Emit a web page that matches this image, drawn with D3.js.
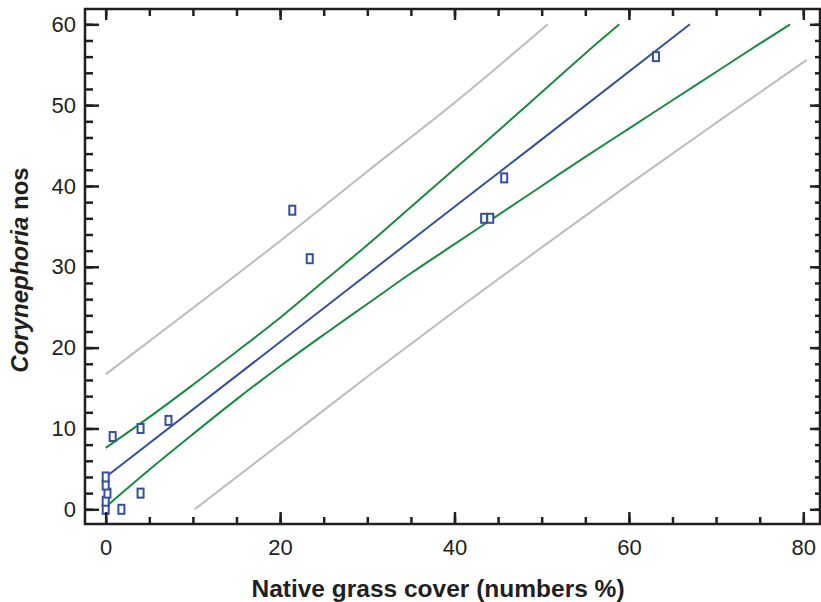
<!DOCTYPE html>
<html>
<head>
<meta charset="utf-8">
<script src="https://cdn.jsdelivr.net/npm/d3@7/dist/d3.min.js"></script>
<style>
  html, body { margin: 0; padding: 0; background: #fff; }
  svg { display: block; font-family: "Liberation Sans", Arial, Helvetica, sans-serif; }
</style>
</head>
<body>
<div id="chart"></div>
<script>
// observed points: native grass cover (%) vs Corynephoria counts
const grassCover = [0, 0, 0.2, 0, 0, 0.8, 4, 7.2, 4, 1.8, 21.4, 23.4, 43.4, 44.1, 45.7, 63.1];
const coryNos    = [0, 1, 2, 3, 4, 9, 10, 11, 2, 0, 37, 31, 36, 36, 41, 56];

// fitted line, confidence band and prediction band
const fitLine = [[0, 4.0], [20, 20.7], [38.3, 36.0], [48.5, 44.5], [67, 60]];
const confUpper = [[0, 7.6], [5, 11.4], [10, 15.4], [15, 19.5], [20, 23.7], [25, 28.2], [30, 32.7],
                   [35, 37.4], [40, 42.1], [45, 46.8], [50, 51.6], [55, 56.4], [58.9, 60]];
const confLower = [[0, 0.3], [5, 4.9], [10, 9.3], [15, 13.6], [20, 17.7], [25, 21.6], [30, 25.4],
                   [35, 29.2], [40, 32.8], [45, 36.4], [50, 40.0], [55, 43.6], [60, 47.1],
                   [65, 50.6], [70, 54.1], [75, 57.6], [78.5, 60]];
const predUpper = [[0, 16.7], [10, 24.9], [20, 33.2], [30, 41.8], [40, 50.3], [50.7, 60]];
const predLower = [[10.2, 0], [20, 8.1], [30, 16.4], [40, 24.5], [50, 32.4], [60, 40.2],
                   [70, 47.8], [80.4, 55.6]];

const xMajor = [0, 20, 40, 60, 80];
const xMinor = d3.range(0, 81, 5);
const yMajor = [0, 10, 20, 30, 40, 50, 60];
const yMinor = d3.range(0, 61, 2);

const width = 821, height = 602;
const frame = {left: 85, right: 820, top: 9, bottom: 524};
const axisColor = '#231f20';

const svg = d3.select('#chart')
    .append('svg')
    .attr('width', width)
    .attr('height', height);

const x = d3.scaleLinear().domain([0, 80]).range([105.7, 803.3]);
const y = d3.scaleLinear().domain([0, 60]).range([509.3, 24.3]);

// bands and fit line
const line = d3.line()
    .curve(d3.curveMonotoneX)
    .x(d => x(d[0]))
    .y(d => y(d[1]));

const curves = [
    {data: predUpper, color: '#bcbcbc'},
    {data: predLower, color: '#bcbcbc'},
    {data: confUpper, color: '#1a8a42'},
    {data: confLower, color: '#1a8a42'},
    {data: fitLine, color: '#34509f'}
];
svg.selectAll('path.curve')
    .data(curves)
    .enter()
    .append('path')
    .attr('class', 'curve')
    .attr('fill', 'none')
    .attr('stroke', d => d.color)
    .attr('stroke-width', 2)
    .attr('d', d => line(d.data));

// data points
svg.selectAll('rect.pt')
    .data(grassCover.map((g, i) => ({g, c: coryNos[i]})))
    .enter()
    .append('rect')
    .attr('class', 'pt')
    .attr('x', d => x(d.g) - 3)
    .attr('y', d => y(d.c) - 4.5)
    .attr('width', 6)
    .attr('height', 9)
    .attr('fill', '#fff')
    .attr('stroke', '#34509f')
    .attr('stroke-width', 2);

// axes (ticks point inward)
function styleAxis(g) {
    g.select('.domain').remove();
    g.selectAll('line').attr('stroke', axisColor).attr('stroke-width', 2.5);
    g.selectAll('text')
        .attr('fill', axisColor)
        .style('font-size', '22px')
        .style('font-family', '"Liberation Sans", Arial, sans-serif');
}

svg.append('g')
    .attr('transform', `translate(${frame.left},0)`)
    .call(d3.axisLeft(y).tickValues(yMinor).tickSize(-8).tickFormat(''))
    .call(styleAxis);
svg.append('g')
    .attr('transform', `translate(${frame.left},0)`)
    .call(d3.axisLeft(y).tickValues(yMajor).tickSize(-14).tickPadding(9).tickFormat(d3.format('d')))
    .call(styleAxis);

svg.append('g')
    .attr('transform', `translate(${frame.right},0)`)
    .call(d3.axisRight(y).tickValues(yMinor).tickSize(-5).tickFormat(''))
    .call(styleAxis);
svg.append('g')
    .attr('transform', `translate(${frame.right},0)`)
    .call(d3.axisRight(y).tickValues(yMajor).tickSize(-10).tickFormat(''))
    .call(styleAxis);

svg.append('g')
    .attr('transform', `translate(0,${frame.bottom})`)
    .call(d3.axisBottom(x).tickValues(xMinor).tickSize(-7).tickFormat(''))
    .call(styleAxis);
svg.append('g')
    .attr('transform', `translate(0,${frame.bottom})`)
    .call(d3.axisBottom(x).tickValues(xMajor).tickSize(-12).tickPadding(15).tickFormat(d3.format('d')))
    .call(styleAxis);

svg.append('g')
    .attr('transform', `translate(0,${frame.top})`)
    .call(d3.axisTop(x).tickValues(xMinor).tickSize(-7).tickFormat(''))
    .call(styleAxis);
svg.append('g')
    .attr('transform', `translate(0,${frame.top})`)
    .call(d3.axisTop(x).tickValues(xMajor).tickSize(-11).tickFormat(''))
    .call(styleAxis);

// frame
svg.append('rect')
    .attr('x', frame.left)
    .attr('y', frame.top)
    .attr('width', frame.right - frame.left)
    .attr('height', frame.bottom - frame.top)
    .attr('fill', 'none')
    .attr('stroke', axisColor)
    .attr('stroke-width', 2.5);

// axis titles
svg.append('text')
    .attr('x', 438)
    .attr('y', 597)
    .attr('text-anchor', 'middle')
    .attr('fill', axisColor)
    .style('font-size', '24.5px')
    .style('font-weight', 'bold')
    .text('Native grass cover (numbers %)');

const yTitle = svg.append('text')
    .attr('transform', 'translate(28,270) rotate(-90)')
    .attr('text-anchor', 'middle')
    .attr('fill', axisColor)
    .style('font-size', '24px')
    .style('font-weight', 'bold');
yTitle.append('tspan').style('font-style', 'italic').text('Corynephoria');
yTitle.append('tspan').text(' nos');
</script>
</body>
</html>
